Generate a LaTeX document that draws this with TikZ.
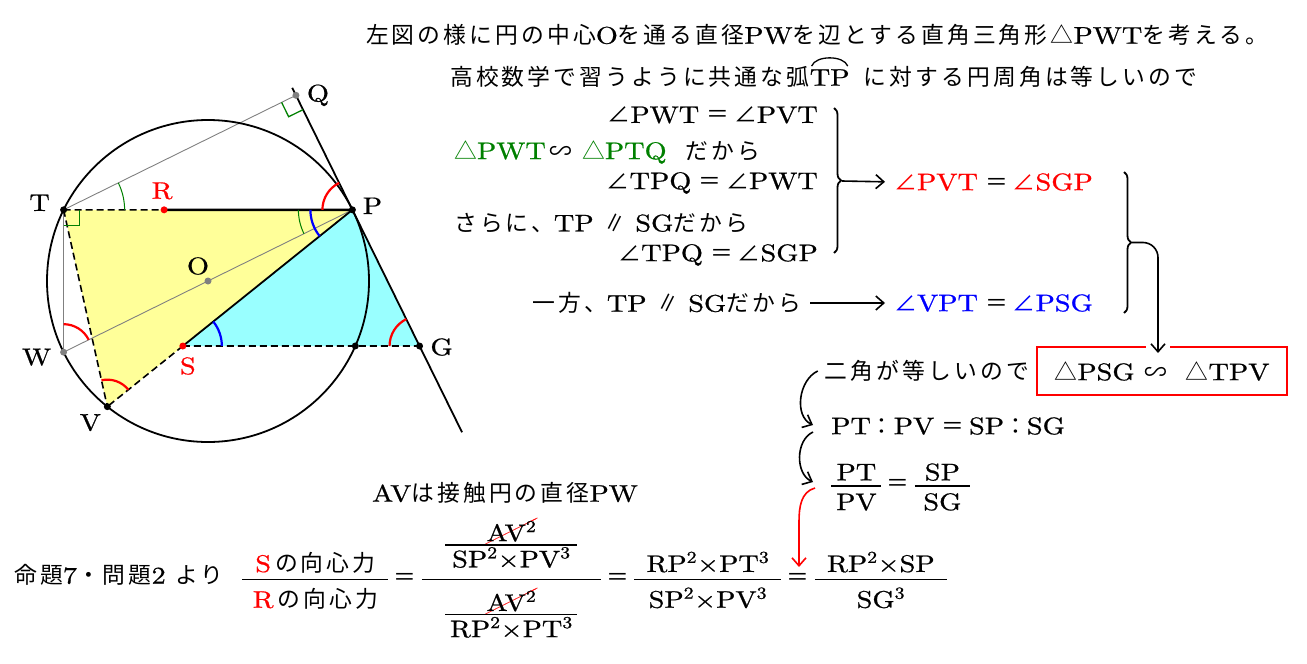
\documentclass[tikz,border=0pt]{standalone}
\usepackage{amsmath,amssymb}
\usepackage{fontspec}
\usepackage{cancel}
\setmainfont{lmroman10-regular.otf}[FakeStretch=1.18,FakeBold=0.8]
\newfontfamily\jp{Noto Sans CJK JP}[Scale=0.95,LetterSpace=13.5]
\usetikzlibrary{arrows.meta,positioning,calc,angles,decorations.pathreplacing}
\tikzset{>={Straight Barb[length=8pt,width=14pt]}}
\definecolor{lemon}{RGB}{255,255,153}
\definecolor{aqua}{RGB}{153,255,255}
\definecolor{leaf}{RGB}{0,128,0}
\renewcommand{\CancelColor}{\color{red}\thicklines}
\newcommand{\kaku}{{\jp ∠}}
\newcommand{\sankaku}{{\jp △}}
\newcommand{\soji}{{\jp ∽}}
\newcommand{\heiko}{{\jp ∥}}
\newcommand{\hito}{\hspace{0.3em}{\jp ＝}\hspace{0.2em}}
\newcommand{\mhito}{\,\text{\jp ＝}\,}
\newcommand{\sink}[1]{\rule[-#1]{0pt}{#1}}
\newcommand{\lift}[1]{\rule{0pt}{#1}}
\newcommand{\rfrac}[3]{\genfrac{}{}{1.6pt}{1}{\makebox[#1]{#2}}{\makebox[#1]{#3}}}

\begin{document}
\begin{tikzpicture}[x=1pt,y=1pt,font=\fontsize{24}{29}\selectfont,
    every node/.style={inner sep=0pt},
    dashline/.style={line width=1.6pt,dash pattern=on 7pt off 4pt},
    redmark/.style={draw=red,line width=2.2pt},
    bluemark/.style={draw=blue,line width=2.2pt},
    greenmark/.style={draw=leaf,line width=1pt},
    link/.style={->,line width=1.6pt}]
    \useasboundingbox (0,-664) rectangle (1307,0);

    % the circle and its points
    \coordinate (O) at (208,-281);
    \coordinate (P) at ($(O)+(26.24:161)$);
    \coordinate (T) at ($(O)+(153.76:161)$);
    \coordinate (W) at ($(O)+(206.24:161)$);
    \coordinate (V) at ($(O)+(231.3:161)$);
    \coordinate (Xc) at ($(O)+(-23.81:161)$);
    \coordinate (Qe) at ($(P)+(116.24:136)$);
    \coordinate (Ge) at ($(P)+(-63.76:248)$);
    \coordinate (Q) at ($(P)!(T)!(Qe)$);
    \coordinate (h1) at (0,-346);
    \coordinate (h2) at (500,-346);
    \coordinate (G) at (intersection of P--Ge and h1--h2);
    \coordinate (S) at (intersection of P--V and h1--h2);
    \coordinate (R) at ($(T)!0.348!(P)$);

    \fill [lemon] (T) -- (P) -- (V) -- cycle;
    \fill [aqua] (P) -- (S) -- (G) -- cycle;

    \draw [gray,line width=1.3pt] (T) -- (W);
    \draw [gray,line width=0.9pt] (W) -- (P) (T) -- (Q);
    \draw [line width=1.8pt] (O) circle [radius=161pt];
    \draw [line width=1.8pt] (Qe) -- (Ge);
    \draw [dashline] (T) -- (R) (T) -- (V) (S) -- (V) (S) -- (G);
    \draw [line width=2.6pt] (R) -- (P);
    \draw [line width=1.8pt] (P) -- (S);

    % angle marks
    \pic [redmark,angle radius=30pt] {angle=Q--P--T};
    \pic [redmark,angle radius=28pt] {angle=P--W--T};
    \pic [redmark,angle radius=27pt] {angle=P--V--T};
    \pic [redmark,angle radius=30pt] {angle=P--G--S};
    \pic [bluemark,angle radius=42pt] {angle=T--P--S};
    \pic [bluemark,angle radius=39pt] {angle=G--S--P};
    \pic [greenmark,angle radius=54pt] {angle=T--P--W};
    \pic [greenmark,angle radius=61pt] {angle=P--T--Q};
    \pic [draw=leaf,line width=1.3pt,angle radius=16pt] {right angle=W--T--P};
    \pic [draw=leaf,line width=1.3pt,angle radius=16pt] {right angle=T--Q--P};

    \foreach \pt in {T,P,V,G,Xc} \fill (\pt) circle [radius=3.5pt];
    \foreach \pt in {R,S} \fill [red] (\pt) circle [radius=3.5pt];
    \foreach \pt in {O,W,Q} \fill [gray] (\pt) circle [radius=3.5pt];

    \node (lT) at ($(T)+(-24,7)$) {T};
    \node [red] (lR) at ($(R)+(-2,19)$) {R};
    \node (lP) at ($(P)+(20,4)$) {P};
    \node (lQ) at ($(Q)+(22,0)$) {Q};
    \node (lO) at ($(O)+(-10,15)$) {O};
    \node (lW) at ($(W)+(-27,-5)$) {W};
    \node [red] (lS) at ($(S)+(5,-20)$) {S};
    \node (lG) at ($(G)+(22,-1)$) {G};
    \node (lV) at ($(V)+(-17,-16)$) {V};

    % explanation
    \node (l1) at (817,-35) {{\jp 左図の様に円の中心}O{\jp を通る直径}PW{\jp を辺とする直角三角形△}PWT{\jp を考える。}};
    \node [anchor=west] (l2a) at (450,-77) {{\jp 高校数学で習うように共通な弧}};
    \node [anchor=base west] (tp) at (l2a.base east) {TP};
    \node [anchor=base west] (l2c) at ([xshift=14pt]tp.base east) {{\jp に対する円周角は等しいので}};
    \draw [line width=1.3pt] ([xshift=2pt,yshift=3pt]tp.north west) .. controls ([xshift=6pt,yshift=14pt]tp.north west) and ([xshift=-6pt,yshift=14pt]tp.north east) .. ([xshift=-2pt,yshift=3pt]tp.north east);

    \node [anchor=east] (r1) at (818,-115) {\kaku PWT\hito\kaku PVT};
    \node [anchor=west] (r2) at (454,-152) {{\color{leaf}\sankaku PWT}\,\soji\ {\color{leaf}\sankaku PTQ}\hspace{0.8em}{\jp だから}};
    \node [anchor=east] (r3) at (818,-183) {\kaku TPQ\hito\kaku PWT};
    \node [anchor=west] (r4) at (454,-223) {{\jp さらに、}TP \heiko\ SG{\jp だから}};
    \node [anchor=east] (r5) at (818,-255) {\kaku TPQ\hito\kaku SGP};
    \node [anchor=east] (ippo) at (801,-303) {{\jp 一方、}TP \heiko\ SG{\jp だから}};
    \node [anchor=west] (redeq) at (894,-182) {{\color{red}\kaku PVT}\hito{\color{red}\kaku SGP}};
    \node [anchor=west] (blueeq) at (894,-303) {{\color{blue}\kaku VPT}\hito{\color{blue}\kaku PSG}};

    \draw [line width=1.8pt,decorate,decoration={brace,amplitude=7pt}] (834,-108) -- (834,-253);
    \coordinate (b1) at (842,-181);
    \draw [link,shorten >=9pt] (b1) -- (redeq.west);
    \draw [link,shorten <=9pt,shorten >=9pt] (ippo.east) -- (blueeq.west);
    \draw [line width=1.8pt,decorate,decoration={brace,amplitude=7pt}] (1124,-172) -- (1124,-313);
    \coordinate (b2) at (1132,-242.5);

    \node [draw=red,line width=1.8pt,minimum width=250pt,minimum height=48pt] (box) at (1162,-371) {\sankaku PSG \soji\ \ \sankaku TPV};
    \fill [white] (1146,-344) rectangle (1170,-351);
    \coordinate (boxin) at (1158,-353);
    \draw [link,rounded corners=15pt] (b2) -| (boxin);

    \node [left=7pt of box] (nikaku) {{\jp 二角が等しいので}};
    \node [anchor=west] (ratio) at (831,-426) {PT{\jp ：}PV\hito SP{\jp ：}SG};
    \node [anchor=west] (frac1) at (830,-487) {$\rfrac{50pt}{\sink{3pt}PT}{\lift{22pt}PV}\mhito\rfrac{55pt}{\sink{3pt}SP}{\lift{22pt}SG}$};
    \draw [link] ([xshift=-7pt]nikaku.west) to[out=205,in=155] ([xshift=-18pt,yshift=1pt]ratio.west);
    \draw [link] ([xshift=-18pt,yshift=-6pt]ratio.west) to[out=205,in=155] ([xshift=-17pt,yshift=5pt]frac1.west);

    % the ratio of the forces
    \node (diam) at (505,-493) {AV{\jp は接触円の直径}PW};
    \node [anchor=west] (prop) at (14,-575) {{\jp 命題}7{\jp ・問題}2 {\jp より}};
    \node [anchor=west] (force) at (241,-578) {$\rfrac{146pt}{\sink{5pt}{\color{red}S}\,{\jp の向心力}}{\lift{26pt}{\color{red}R}\,{\jp の向心力}}
      \mhito\rfrac{179pt}{\sink{26pt}$\rfrac{132pt}{\cancel{AV\textsuperscript{2}}}{SP\textsuperscript{2}×PV\textsuperscript{3}}$}{\lift{39pt}$\rfrac{132pt}{\cancel{AV\textsuperscript{2}}}{RP\textsuperscript{2}×PT\textsuperscript{3}}$}
      \mhito\rfrac{147pt}{\sink{5pt}RP\textsuperscript{2}×PT\textsuperscript{3}}{\lift{26pt}SP\textsuperscript{2}×PV\textsuperscript{3}}
      \mhito\rfrac{132pt}{\sink{5pt}RP\textsuperscript{2}×SP}{\lift{26pt}SG\textsuperscript{3}}$};
    \coordinate (redend) at (799,-567);
    \draw [link,red] ([xshift=-15pt,yshift=-1pt]frac1.west) to[out=195,in=90] ($(redend)+(0,45)$) -- (redend);
\end{tikzpicture}
\end{document}
